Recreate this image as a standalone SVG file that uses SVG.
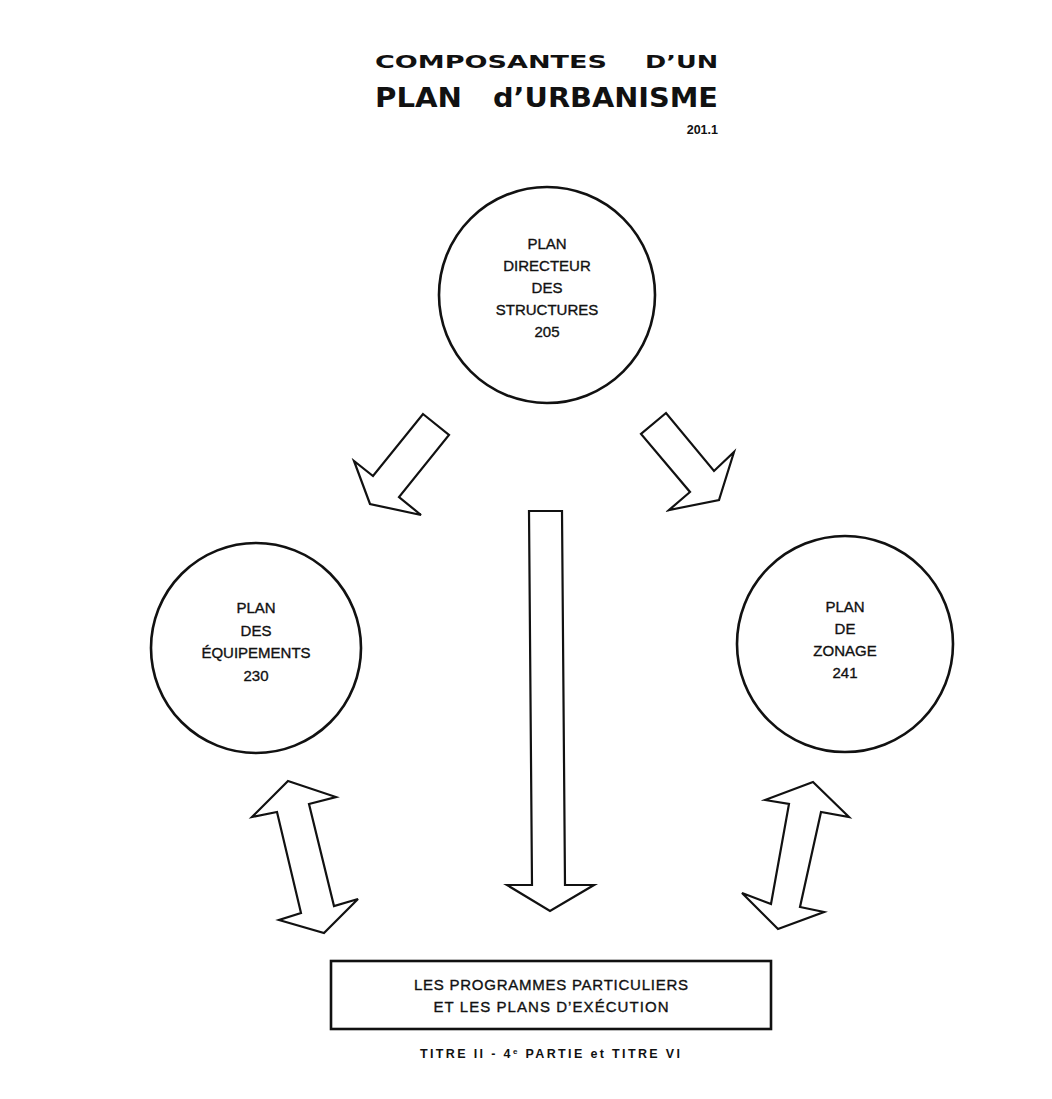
<svg xmlns="http://www.w3.org/2000/svg" width="1052" height="1099" viewBox="0 0 1052 1099">
<style>
.bg{fill:#fff}
.node{fill:none;stroke:#111;stroke-width:2.6}
.arrow{fill:#fff;stroke:#111;stroke-width:2.2;stroke-linejoin:miter}
.lbl{font-family:"Liberation Sans",Arial,sans-serif;font-size:15px;fill:#111;stroke:#111;stroke-width:0.35;text-anchor:middle}
.title{font-family:"DejaVu Sans","Liberation Sans",sans-serif;font-weight:bold;fill:#111}
.small{font-family:"Liberation Sans",Arial,sans-serif;font-size:12.5px;font-weight:bold;fill:#111}
</style>
<rect class="bg" x="0" y="0" width="1052" height="1099"/>
<g id="title">
<text class="title" x="375" y="68" font-size="17.5" textLength="232" lengthAdjust="spacingAndGlyphs">COMPOSANTES</text>
<text class="title" x="645" y="68" font-size="17.5" textLength="73" lengthAdjust="spacingAndGlyphs">D’UN</text>
<text class="title" x="375" y="107" font-size="27" textLength="87" lengthAdjust="spacingAndGlyphs">PLAN</text>
<text class="title" x="493" y="107" font-size="27" textLength="225" lengthAdjust="spacingAndGlyphs">d’URBANISME</text>
<text class="small" x="718" y="134" text-anchor="end">201.1</text>
</g>
<g id="connectors">
<polygon class="arrow" points="423,414 449,435 399,497 421,515 370,504 354,461 373,476"/>
<polygon class="arrow" points="666,413 641,434 690,492 669,510 719,500 734,452 714,471"/>
<polygon class="arrow" points="529,511 562,511 565,885 594,885 550,911 507,885 532,885"/>
<polygon class="arrow" points="288,781 336,797 309,804 334,906 358,899 324,933 279,920 301,913 277,812 252,817"/>
<polygon class="arrow" points="813,782 849,817 821,812 800,907 824,912 778,929 742,893 771,904 789,804 765,800"/>
</g>
<g id="node-directeur">
<circle class="node" cx="547" cy="295" r="108"/>
<text class="lbl" x="547" y="249">PLAN</text>
<text class="lbl" x="547" y="271">DIRECTEUR</text>
<text class="lbl" x="547" y="293">DES</text>
<text class="lbl" x="547" y="315">STRUCTURES</text>
<text class="lbl" x="547" y="337">205</text>
</g>
<g id="node-equipements">
<circle class="node" cx="256" cy="648" r="105"/>
<text class="lbl" x="256" y="613">PLAN</text>
<text class="lbl" x="256" y="636">DES</text>
<text class="lbl" x="256" y="658">ÉQUIPEMENTS</text>
<text class="lbl" x="256" y="681">230</text>
</g>
<g id="node-zonage">
<circle class="node" cx="845" cy="644" r="108"/>
<text class="lbl" x="845" y="612">PLAN</text>
<text class="lbl" x="845" y="634">DE</text>
<text class="lbl" x="845" y="656">ZONAGE</text>
<text class="lbl" x="845" y="678">241</text>
</g>
<g id="node-programmes">
<rect class="node" x="331" y="961" width="440" height="68" stroke-width="2.2"/>
<text class="lbl" x="551" y="990" textLength="274" lengthAdjust="spacing">LES PROGRAMMES PARTICULIERS</text>
<text class="lbl" x="551" y="1012" textLength="235" lengthAdjust="spacing">ET LES PLANS D’EXÉCUTION</text>
</g>
<g id="footer">
<text class="small" x="550" y="1058" text-anchor="middle" textLength="260" lengthAdjust="spacing">TITRE II - 4<tspan font-size="8" dy="-4">e</tspan><tspan dy="4"> PARTIE et TITRE VI</tspan></text>
</g>
</svg>
